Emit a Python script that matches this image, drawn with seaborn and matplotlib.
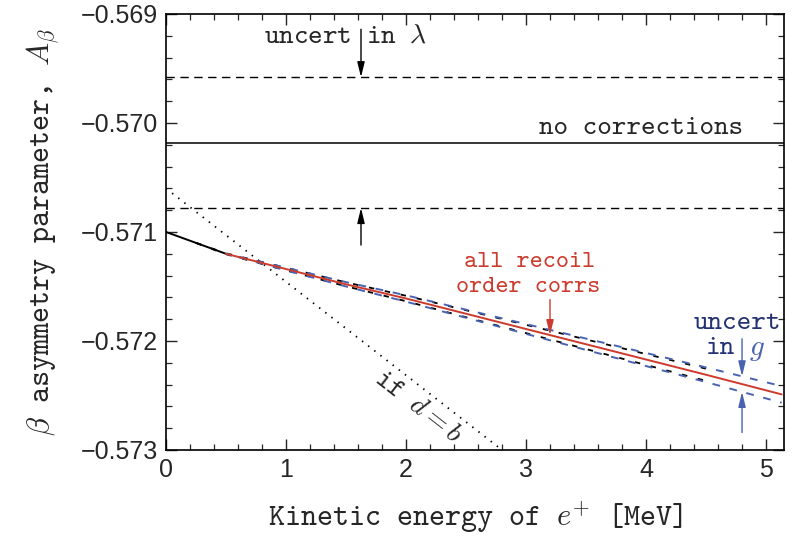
import numpy as np
import pandas as pd
import matplotlib
matplotlib.use("Agg")
import matplotlib.pyplot as plt
from matplotlib.ticker import MultipleLocator, FuncFormatter
import seaborn as sns

# ---- data ----
x_range = [0.0, 5.15]
a_no_corr = -0.57018          # asymmetry without recoil-order corrections
lam_unc = 0.0006              # half-width from the uncertainty in lambda

energy = [0.0, 0.25, 0.5, 0.75, 1.0, 1.5, 2.0, 2.5, 3.0, 3.5, 4.0, 4.5, 5.13]
a_corr = [-0.57100, -0.57110, -0.57120, -0.57127, -0.57134, -0.57148, -0.57161,
          -0.57175, -0.57189, -0.57203, -0.57217, -0.57231, -0.57249]
g_halfwidth = [0.0, 0.0, 0.0, 0.000006, 0.000012, 0.000020, 0.000029,
               0.000037, 0.000045, 0.000052, 0.000060, 0.000067, 0.000076]
lam_corr_halfwidth = [0.0, 0.0, 0.000004, 0.000008, 0.000012, 0.000018, 0.000025,
                      0.000032, 0.000038, 0.000044, 0.000050, 0.000056, 0.000064]

dotted_e = [0.0, 2.8]
dotted_a = [-0.57060, -0.57300]

# ---- style ----
sns.set_style("ticks")
plt.rcParams.update({
    "mathtext.fontset": "cm",
    "axes.linewidth": 1.2,
    "xtick.direction": "in",
    "ytick.direction": "in",
    "xtick.top": True,
    "ytick.right": True,
})
TT = "cmtt10"
SANS = ["Liberation Sans", "DejaVu Sans"]
RED = "#cc3b2e"
BLUE = "#4a63b0"
NAVY = "#243273"
FS = 20

fig = plt.figure(figsize=(7.93, 5.36), dpi=100)
ax = fig.add_axes([0.2093, 0.1605, 0.7794, 0.8134])

df = pd.DataFrame({"E": energy, "A": a_corr,
                   "g": g_halfwidth, "lam": lam_corr_halfwidth})
flat = pd.DataFrame({"E": x_range})

# horizontal reference: no corrections and its lambda band
sns.lineplot(x=flat["E"], y=[a_no_corr] * 2, ax=ax, color="black", lw=1.1)
for s in (+1, -1):
    sns.lineplot(x=flat["E"], y=[a_no_corr + s * lam_unc] * 2, ax=ax,
                 color="black", lw=1.0, linestyle=(0, (6, 4)))

# dotted "if d = b" curve
sns.lineplot(x=dotted_e, y=dotted_a, ax=ax, color="black", lw=1.3,
             linestyle=(0, (0.8, 3.5)))

# black dashed band (lambda) around the corrected curve
band_lam = df[(df["E"] >= 0.25) & (df["E"] <= 4.6)]
for s in (+1, -1):
    sns.lineplot(x=band_lam["E"], y=band_lam["A"] + s * band_lam["lam"], ax=ax,
                 color="black", lw=1.3, linestyle=(0, (3, 6)))

# blue dashed band (g) around the corrected curve
band_g = df[df["E"] >= 0.4]
for s in (+1, -1):
    sns.lineplot(x=band_g["E"], y=band_g["A"] + s * band_g["g"], ax=ax,
                 color=BLUE, lw=1.4, linestyle=(2, (4, 5)))

# corrected curve: black at low energy, red for all recoil-order corrections
low = df[df["E"] <= 0.6]
sns.lineplot(x=low["E"], y=low["A"], ax=ax, color="black", lw=1.4)
high = df[df["E"] >= 0.5]
sns.lineplot(x=high["E"], y=high["A"], ax=ax, color=RED, lw=1.4)

# ---- axes ----
ax.set_xlim(x_range)
ax.set_ylim(-0.573, -0.569)
ax.xaxis.set_major_locator(MultipleLocator(1))
ax.xaxis.set_minor_locator(MultipleLocator(0.2))
ax.yaxis.set_major_locator(MultipleLocator(0.001))
ax.yaxis.set_minor_locator(MultipleLocator(0.0002))
ax.yaxis.set_major_formatter(FuncFormatter(lambda v, p: f"{v:.3f}".replace("-", "\u2212")))
ax.xaxis.set_major_formatter(FuncFormatter(lambda v, p: f"{v:.0f}"))
ax.tick_params(which="major", length=8, width=1.0, labelsize=18, pad=6)
ax.tick_params(which="minor", length=4, width=0.9)
for lab in ax.get_xticklabels() + ax.get_yticklabels():
    lab.set_family(SANS)
for sp in ax.spines.values():
    sp.set_visible(True)
    sp.set_color("black")

ax.set_xlabel(r"Kinetic energy of $e^{+}$ [MeV]", family=TT, fontsize=22, labelpad=12)
ax.set_ylabel(r"$\beta$ asymmetry parameter, $A_\beta$", family=TT, fontsize=22, labelpad=14)

# ---- annotations ----
arrow_k = dict(arrowstyle="-|>,head_length=0.9,head_width=0.22", lw=1.0, shrinkA=0, shrinkB=0)

ax.text(1.5, -0.56921, r"uncert in $\lambda$", family=TT, fontsize=FS,
        ha="center", va="center")
ax.annotate("", xy=(1.625, a_no_corr + lam_unc), xytext=(1.625, -0.56914),
            arrowprops=dict(arrow_k, color="black"))
ax.annotate("", xy=(1.625, a_no_corr - lam_unc), xytext=(1.625, -0.57112),
            arrowprops=dict(arrow_k, color="black"))

ax.text(3.96, -0.57005, "no corrections", family=TT, fontsize=FS,
        ha="center", va="center")

ax.text(3.03, -0.57128, "all recoil", family=TT, fontsize=18,
        ha="center", va="center", color=RED)
ax.text(3.02, -0.57151, "order corrs", family=TT, fontsize=18,
        ha="center", va="center", color=RED)
e_red = 3.2
ax.annotate("", xy=(e_red, np.interp(e_red, energy, a_corr)), xytext=(e_red, -0.57162),
            arrowprops=dict(arrow_k, color=RED))

e_blue = 4.8
ax.text(4.76, -0.57184, "uncert", family=TT, fontsize=FS,
        ha="center", va="center", color=NAVY)
ax.text(e_blue - 0.06, -0.57207, "in", family=TT, fontsize=FS,
        ha="right", va="center", color=NAVY)
ax.text(e_blue + 0.06, -0.57207, r"$g$", fontsize=FS + 1,
        ha="left", va="center", color=BLUE)
a_b = np.interp(e_blue, energy, a_corr)
hw_b = np.interp(e_blue, energy, g_halfwidth)
ax.annotate("", xy=(e_blue, a_b + hw_b), xytext=(e_blue, -0.57198),
            arrowprops=dict(arrow_k, color=BLUE))
ax.annotate("", xy=(e_blue, a_b - hw_b), xytext=(e_blue, -0.57284),
            arrowprops=dict(arrow_k, color=BLUE))

ax.text(2.09, -0.57261, r"if $d=b$", family=TT, fontsize=FS,
        ha="center", va="center", rotation=-38, rotation_mode="anchor")

fig.savefig("out.png", dpi=100)
